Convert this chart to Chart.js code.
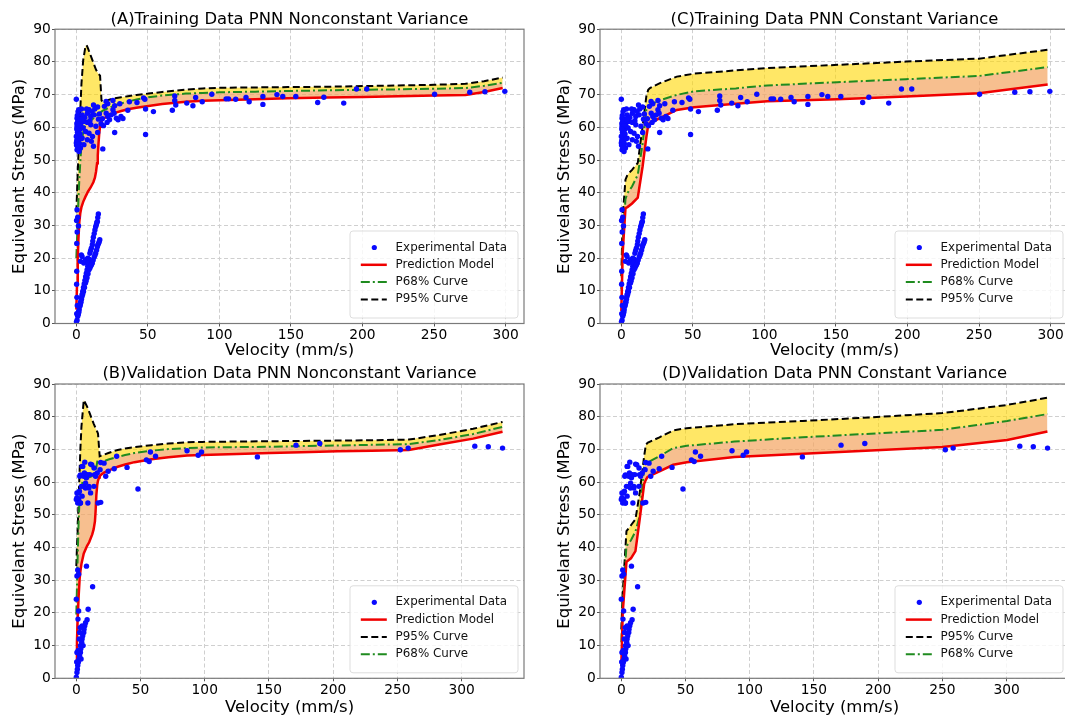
<!DOCTYPE html>
<html><head><meta charset="utf-8">
<script src="https://cdn.jsdelivr.net/npm/chart.js@4.4.1/dist/chart.umd.min.js"></script>
<style>
html,body{margin:0;padding:0;background:#fff;}
body{width:1065px;height:718px;position:relative;overflow:hidden;}
canvas{position:absolute;}
</style></head>
<body>
<canvas id="cA" width="540" height="359" style="left:0px;top:0px"></canvas>
<canvas id="cC" width="530" height="359" style="left:545px;top:0px"></canvas>
<canvas id="cB" width="540" height="359" style="left:0px;top:359px"></canvas>
<canvas id="cD" width="530" height="359" style="left:545px;top:359px"></canvas>
<script>
// ---------- tick labels ----------
const xTicks = [0, 50, 100, 150, 200, 250, 300];
const yTicks = [0, 10, 20, 30, 40, 50, 60, 70, 80, 90];

// ---------- experimental data (training) ----------
const trainV = [
  299.5,285.6,275,250.4,203,195.8,186.9,173,168.7,153.4,144.3,140.2,130.4,130.4,120.8,118.6,111.4,106.4,104.7,94.7,
  88,83.4,81.5,77.2,68.8,68.8,69.5,67.1,53.9,48.4,47.9,47,48.4,42.4,37.1,36,32.6,30.4,26.8,25.6,25.6,26.4,26.8,22,19.6,
  20.9,22,23.2,24.4,28,29.2,31.2,20.8,21.5,18.2,19,
  0,1.7,3.6,7.2,8.9,12,12.9,14.9,0.5,4.1, 7.7,10.1,12.5,16.1,1,2.9,5.3,7.7,10.1,13.7,
  17.3,0.5,2.4,4.8,6.5,8.9,11.3,14.9,0,1.7, 4.1,7.7,10.5,0,1,2.9,5.3,12,18.5,0.5,
  1.9,0.3,0.8,1.3,2.2,3.2,0.4,6,9.5,15.5, 11,
  0.2,0.6,1.1,0.9,1.6,2.1,2.6,3.4,0.3,1.4, 2.7,3.8,0.7,1.2,
  0.3,0.2,0.5,1.0,1.5,0.6,0.2,0.4,0.3,2.9, 4,5.2,6.4,8,3.5,
  0.5,1.2,2,3,4,5,6,7,8,9, 9.5,10.5,11.2,11.9,12.5,13.5,14,14.7,15.4,
  1.5,2.5,3.5,4.5,5.5,6.5,7.5,8.5,10,11.5, 13,14.3,15,
  1,1.8,2.4,3.2,4,5,6.4,7.5,8.8,10, 11.2,12.5,13.5,14.2,14.7,15.5,16.4,0.1,0.3,0.7,
  1.4,2.8,3.6,4.5,5.7,6.9,8.2,9.4,10.6,11.8, 13,15,16
];
const trainS = [
  71.0,70.9,70.7,70.1,71.7,71.7,67.4,69.2,67.6,69.4,69.4,70.0,69.4,67.0,67.8,69.1,68.6,68.7,68.7,70.1,
  67.8,69.1,66.6,67.4,69.6,68.2,66.8,65.2,64.8,57.8,68.6,69.0,65.6,67.6,67.8,65.2,62.7,67.2,66.6,68.2,65.4,64.3,58.4,67.2,66.4,
  64.3,63.3,62.3,63.8,62.8,62.3,63.3,67.9,61.5,62.6,60.5,
  68.6,65.4,65.6,65.6,65.4,66.8,65.6,66.2,62.8,63.8, 64.3,63.3,63.8,64.1,61.8,61.3,61.8,61.5,60.8,60.3,
  61.1,60.3,59.3,59.8,58.7,58.2,57.2,58.4,57.2,56.2, 56.7,56.2,55.7,55.2,54.2,53.7,54.7,54.2,53.4,53.1,
  52.6,56.0,58.5,55.5,57.8,60.5,61.2,63,62,62.5, 64.8,
  54.5,57.5,59,61.5,60.5,55,58,56.5,59.5,53.8, 62.5,62.4,63.6,64.8,
  24.5,31.5,34.8,32.5,29.8,28,12,8,16,19, 20.5,18.5,19.5,20,21,
  1,2.8,4.3,6.6,8.8,11,13.2,15.4,17.5,19.7, 21.5,23,24.1,26.4,27.5,29.6,30.2,31.2,33.5,
  3.5,5.4,7.7,9.9,12.1,14.3,16.4,18.6,22.3,25.2, 28.6,30.8,32.4,
  2.2,3.5,5.3,6.5,8.3,9.8,12.4,14,16.4,17.5, 18.5,20.3,21.5,22.5,23.5,24.5,25.6,0.5,3,5.5,
  2.9,5.9,7.4,9,11,13.1,15.2,16.9,18,19.4, 20.9,24,25
];

// ---------- experimental data (validation) ----------
const validV = [
  331.9,320.8,310.3,258.4,252.3,189.6,171.1,141,97.5,94.9, 86.2,61.7,57.7,56.7,54.6,48,39.5,31.4,29.5,24.8,
  22.9,19,21.6,18.5,16.3,14.2,11.1,10.5,9.8,11.1, 9,7.9,7.1,6.3,4.5,3.2,2.4,1.8,0.5,0, 1.1,3.2,5.8,13.7,16.9,19,15,
  7.9,12.7,9.2,8.4,6.6,5.8,4.5,5.3,3.2,2.1, 1.1,0.5,0,1.3,1.8,0.5,1.1,1.8,0,0.5, 3.2,3.7,2.6,4.5,
  6.6,5,2.7,5.8,8.5,4,7.2,9.8,1.9,4.5, 0.5,3.2,12,13.8,
  0.8,1.6,2.6,3.5,4.2,5,6,7.2,0.3,1.5, 2.3,3
];
const validS = [
  70.4,70.8,71.0,70.4,69.9,71.8,71.3,67.7,69.2,68.2, 69.6,67.9,69.2,66.3,66.8,57.9,64.5,67.9,64.1,63.3,
  61.8,66,65.8,63.8,62.8,62.3,65.5,62.3,58.7,56.7, 53.6,61.3,58.2,62.8,64.8,62.2,57.2,54.7,56.7,54.7, 53.6,53.6,58.7,58.7,53.6,53.8,61.8,
  34.3,28,21.1,17.9,16.1,14,12,10,7.9,5.9, 3.9,1.8,0.3,18.1,20.6,31.3,33.1,31.8,24.2,7.9, 10,5.9,14,16,
  66.1,64.8,61.8,61.8,62.3,58.7,59.7,58.2,56.7,55.7, 55.2,53.6,65.3,64.3,
  2.8,4.9,6.8,9,11,13,15,17,5,8.5, 12,15.5
];

// ---------- (A) training, nonconstant variance ----------
const aV    = [0,0.5,1,1.5,2.1,2.8,3.6,4.8,6.4,7.2,8.1,10,11.9,13.0,13.8,14.5,15.0,15.5,16.0,16.6,17.1,17.6,18.5,19.5,21.9,24.2,27,31.4,36,42,50.4,60,76.5,88.4,100.3,125,147.8,175,200.6,225,250,272,285,298];
const aPred = [4.3,12,19.5,26,31,33.8,35.6,37.2,38.8,39.5,40.3,41.6,43.2,44.6,46.5,49,51.5,55,58,60.2,61.2,61.8,62.4,62.8,63.4,63.9,64.4,65.0,65.5,66.0,66.5,67.1,67.8,68.1,68.3,68.6,68.9,69.1,69.3,69.5,69.7,69.9,70.8,72.0];
const aP68  = [20,26,32,38,44,49.5,54.5,58.5,60.8,61.3,61.6,62.1,62.7,63,63.3,63.6,63.8,64,64.2,64.4,64.6,64.8,65.1,65.3,65.8,66.2,66.7,67.3,67.9,68.5,69.2,69.7,70.3,70.5,70.7,70.9,71.1,71.3,71.5,71.6,71.8,72.0,72.7,73.6];
const aP95  = [34,40,46,52,58.2,65.5,73.4,80.5,84.8,85.1,84.2,82.0,79.8,78.5,77.6,77.0,76.7,76.4,76.1,75.8,72,68.3,67.6,67.9,68.3,68.6,68.9,69.2,69.5,69.9,70.3,70.8,71.5,71.9,72.1,72.2,72.3,72.4,72.6,72.8,73.0,73.3,74.1,75.2];

// ---------- (B) validation, nonconstant variance ----------
const bV    = [0,0.5,1,1.8,2.6,3.2,4,5.8,8.4,10,12.4,13.5,14.5,15.0,15.6,16.3,16.9,17.7,18.2,19.5,21.6,25,29.5,32.2,38,45.3,58.5,71.7,86.2,98,125,150.8,175,203.5,230,258.9,282.6,309,331.9];
const bPred = [4.3,11,17.5,25,30.5,32.8,35,38.2,40.5,41.6,44,45.6,48,51,56,59.2,60.5,61.4,61.8,62.3,62.9,63.5,64.3,64.7,65.4,66.1,67.0,67.6,68.1,68.3,68.6,68.9,69.1,69.4,69.6,69.8,71.5,73.3,75.4];
const bP68  = [19.5,28,36.4,48,55.5,57.7,59.2,60.7,61.3,61.5,61.8,62.1,62.5,62.8,64.5,66.3,66.7,66.5,66.4,66.3,66.4,66.9,67.4,67.7,68.3,68.9,69.6,70.1,70.4,70.6,70.7,70.8,71.0,71.2,71.4,71.6,72.9,74.7,76.9];
const bP95  = [34.3,40,44.5,55,63.8,70.5,77,85.1,83.1,81.5,79,77.9,77,76.5,76,75.4,74.8,70.5,67.9,68.1,68.4,68.9,69.5,69.8,70.3,70.7,71.3,71.8,72.2,72.3,72.4,72.5,72.6,72.7,72.8,73.0,74.4,76.3,78.4];

// ---------- (C) training, constant variance ----------
const cV    = [0,1,2.9,4.3,7.5,11.5,14.9,17.5,18.8,20,27,38.8,50.8,80,102,151,199,250,298];
const cPred = [3.8,22,35.3,35.6,36.7,38.5,48.1,57,60.7,61.3,62.8,65.3,66.1,67.2,68.0,68.6,69.4,70.4,73.1];
const cP68  = [10.4,25.7,38,39.9,41.9,45.5,55,65.4,66.4,66.8,68.3,69.9,71.0,71.9,72.8,73.8,74.7,75.7,78.4];
const cP95  = [14.5,32.8,44,45.5,47,49.1,60.3,69.5,71.5,72,73.5,75.5,76.4,77.4,78.1,79.1,80.1,81,83.7];

// ---------- (D) validation, constant variance ----------
const dV    = [0,1.1,4,7.5,11,14.3,17.8,19.1,20.4,29.7,40.4,51,88.1,141.2,194.3,250,300.5,331.8];
const dPred = [3.9,20.1,35.6,36.7,38.9,48.6,59.5,60.7,61.6,63.3,65.3,66.1,67.7,68.7,69.7,70.7,72.9,75.5];
const dP68  = [11,23.2,40.4,42.2,44.9,49.6,64.8,65.5,66,67.9,70.4,71.1,72.4,73.7,74.8,76,78.7,80.8];
const dP95  = [15,26.2,45,46.8,48.6,56.7,68,71.4,72,73.7,75.8,76.5,77.7,78.7,79.8,81.1,83.6,85.8];

// ---------- styling ----------
const FONT = "'DejaVu Sans', sans-serif";
const YELLOW = 'rgba(255,215,0,0.6)';
const ORANGE = 'rgba(244,164,96,0.7)';
const GRID = '#cfcfcf';

const pts = (xs, ys) => xs.map((x, i) => ({x: x, y: ys[i]}));

const framePlugin = {
  id: 'frame',
  afterDatasetsDraw(chart) {
    const a = chart.chartArea, ctx = chart.ctx;
    ctx.save();
    ctx.strokeStyle = '#7a7a7a';
    ctx.lineWidth = 1.2;
    ctx.setLineDash([]);
    ctx.strokeRect(a.left, a.top, a.right - a.left, a.bottom - a.top);
    ctx.restore();
  }
};

const legendPlugin = {
  id: 'mplLegend',
  afterDraw(chart, args, opts) {
    const a = chart.chartArea, ctx = chart.ctx;
    const w = 168, h = 87;
    const x0 = a.right - 6 - w, y0 = a.bottom - 5.5 - h;
    ctx.save();
    ctx.beginPath();
    const r = 3;
    ctx.moveTo(x0 + r, y0);
    ctx.arcTo(x0 + w, y0, x0 + w, y0 + h, r);
    ctx.arcTo(x0 + w, y0 + h, x0, y0 + h, r);
    ctx.arcTo(x0, y0 + h, x0, y0, r);
    ctx.arcTo(x0, y0, x0 + w, y0, r);
    ctx.closePath();
    ctx.fillStyle = 'rgba(255,255,255,0.8)';
    ctx.fill();
    ctx.strokeStyle = '#dddddd';
    ctx.lineWidth = 1;
    ctx.stroke();
    const order = opts.order || [0, 1, 2, 3];
    order.forEach((di, i) => {
      const ds = chart.data.datasets[di];
      const y = y0 + 16.5 + i * 17.3;
      if (ds.showLine === false) {
        ctx.beginPath();
        ctx.fillStyle = ds.pointBackgroundColor;
        ctx.arc(x0 + 24.3, y, 2.6, 0, Math.PI * 2);
        ctx.fill();
      } else {
        ctx.beginPath();
        ctx.strokeStyle = ds.borderColor;
        ctx.lineWidth = ds.borderWidth;
        ctx.setLineDash(ds.borderDash || []);
        ctx.moveTo(x0 + 10.8, y);
        ctx.lineTo(x0 + 36.8, y);
        ctx.stroke();
        ctx.setLineDash([]);
      }
      ctx.fillStyle = '#111';
      ctx.font = '11.9px ' + FONT;
      ctx.textBaseline = 'middle';
      ctx.textAlign = 'left';
      ctx.fillText(ds.label, x0 + 45.6, y);
    });
    ctx.restore();
  }
};

function build(p) {
  const L = p.layout;
  const titleSize = 16.4, labSize = 16.5, tickSize = 13.8;
  new Chart(document.getElementById(p.id), {
    type: 'line',
    data: {
      datasets: [
        {label: 'Experimental Data', data: pts(p.sv, p.ss), showLine: false, pointRadius: 2.7, pointHoverRadius: 2.7,
         pointBackgroundColor: '#0a0aff', pointBorderWidth: 0, borderColor: '#0a0aff', backgroundColor: '#0a0aff', fill: false, order: 0},
        {label: 'Prediction Model', data: pts(p.v, p.pred), borderColor: '#f00000', borderWidth: 2.5, pointRadius: 0,
         fill: false, tension: 0, order: 1},
        {label: 'P68% Curve', data: pts(p.v, p.p68), borderColor: '#1f8b1f', borderWidth: 2, borderDash: [9, 3, 2, 3],
         pointRadius: 0, fill: 1, backgroundColor: ORANGE, tension: 0, order: 2},
        {label: 'P95% Curve', data: pts(p.v, p.p95), borderColor: '#000000', borderWidth: 2, borderDash: [7, 3.5],
         pointRadius: 0, fill: 2, backgroundColor: YELLOW, tension: 0, order: 3}
      ]
    },
    options: {
      responsive: false, animation: false, events: [],
      layout: {padding: {left: 0, right: L.W - L.right, top: 0, bottom: 0}},
      plugins: {
        legend: {display: false},
        tooltip: {enabled: false},
        filler: {drawTime: 'beforeDatasetsDraw'},
        title: {display: true, text: p.title, fullSize: false, color: '#000',
          font: {family: FONT, size: titleSize, weight: 'normal', lineHeight: 1},
          padding: {top: L.titleC - titleSize / 2, bottom: L.top - L.titleC - titleSize / 2}},
        mplLegend: {order: p.legendOrder}
      },
      scales: {
        x: {
          type: 'linear', min: p.xmin, max: p.xmax,
          afterBuildTicks: s => { s.ticks = xTicks.map(v => ({value: v})); },
          afterFit: s => { s.height = L.H - L.bottom; },
          ticks: {autoSkip: false, maxRotation: 0, padding: 1, color: '#000', font: {family: FONT, size: tickSize}},
          grid: {color: GRID, lineWidth: 1, drawTicks: true, tickLength: 3, tickColor: '#555', tickBorderDash: [], tickWidth: 1},
          border: {display: false, dash: [4, 2.5]},
          title: {display: true, text: 'Velocity (mm/s)', color: '#000',
            font: {family: FONT, size: labSize, lineHeight: 1},
            padding: {top: 0, bottom: L.H - L.xlabC - labSize / 2}}
        },
        y: {
          type: 'linear', min: 0, max: 90,
          afterBuildTicks: s => { s.ticks = yTicks.map(v => ({value: v})); },
          afterFit: s => { s.width = L.left; },
          ticks: {autoSkip: false, padding: 1.3, color: '#000', font: {family: FONT, size: tickSize}},
          grid: {color: GRID, lineWidth: 1, drawTicks: true, tickLength: 3, tickColor: '#555', tickBorderDash: [], tickWidth: 1},
          border: {display: false, dash: [4, 2.5]},
          title: {display: true, text: 'Equivelant Stress (MPa)', color: '#000',
            font: {family: FONT, size: labSize, lineHeight: 1},
            padding: {top: 11.8, bottom: 0}}
        }
      }
    },
    plugins: [framePlugin, legendPlugin]
  });
}

const rowTop = {W: 540, H: 359, left: 55, right: 524, top: 29.2, bottom: 323.5, titleC: 19.5, xlabC: 350.5};
const rowTopR = Object.assign({}, rowTop, {W: 530});
const rowBot = {W: 540, H: 359, left: 55, right: 524, top: 25, bottom: 319.3, titleC: 15, xlabC: 348.3};
const rowBotR = Object.assign({}, rowBot, {W: 530});

build({id: 'cA', title: '(A)Training Data PNN Nonconstant Variance', v: aV, pred: aPred, p68: aP68, p95: aP95,
  sv: trainV, ss: trainS, xmin: -14.9, xmax: 312.9, legendOrder: [0, 1, 2, 3], layout: rowTop});
build({id: 'cC', title: '(C)Training Data PNN Constant Variance', v: cV, pred: cPred, p68: cP68, p95: cP95,
  sv: trainV, ss: trainS, xmin: -14.9, xmax: 312.9, legendOrder: [0, 1, 2, 3], layout: rowTopR});
build({id: 'cB', title: '(B)Validation Data PNN Nonconstant Variance', v: bV, pred: bPred, p68: bP68, p95: bP95,
  sv: validV, ss: validS, xmin: -16.6, xmax: 348.6, legendOrder: [0, 1, 3, 2], layout: rowBot});
build({id: 'cD', title: '(D)Validation Data PNN Constant Variance', v: dV, pred: dPred, p68: dP68, p95: dP95,
  sv: validV, ss: validS, xmin: -16.6, xmax: 348.6, legendOrder: [0, 1, 3, 2], layout: rowBotR});
</script>
</body></html>
